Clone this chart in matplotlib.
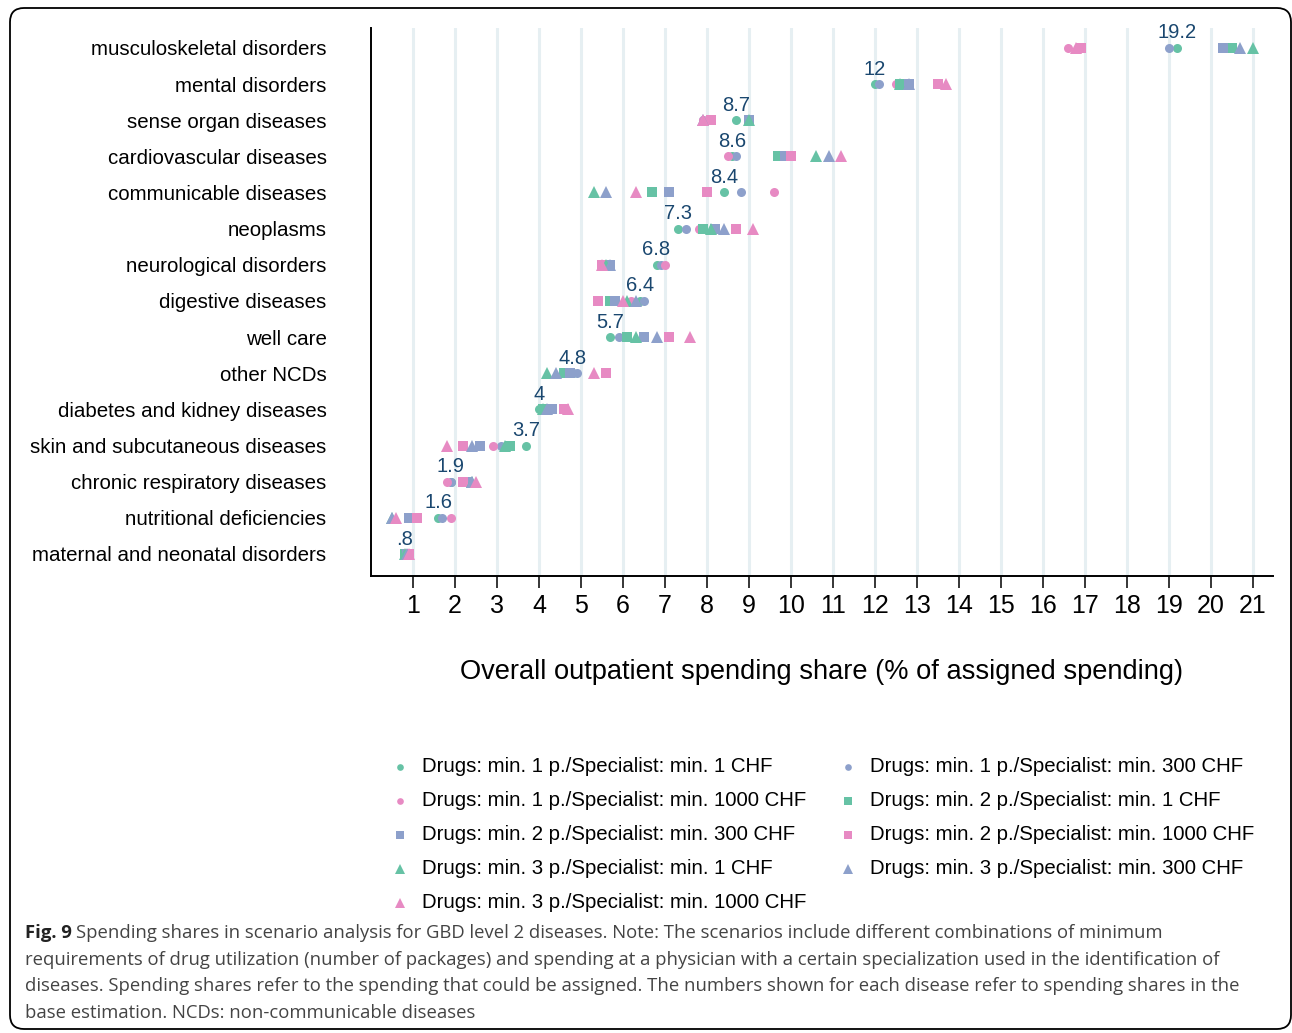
import matplotlib
matplotlib.use("Agg")
import matplotlib.pyplot as plt
from matplotlib.patches import FancyBboxPatch

plt.rcParams["font.family"] = ["Liberation Sans", "DejaVu Sans"]

categories = [
    "musculoskeletal disorders", "mental disorders", "sense organ diseases",
    "cardiovascular diseases", "communicable diseases", "neoplasms",
    "neurological disorders", "digestive diseases", "well care", "other NCDs",
    "diabetes and kidney diseases", "skin and subcutaneous diseases",
    "chronic respiratory diseases", "nutritional deficiencies",
    "maternal and neonatal disorders",
]
base_labels = ["19.2", "12", "8.7", "8.6", "8.4", "7.3", "6.8", "6.4", "5.7",
               "4.8", "4", "3.7", "1.9", "1.6", ".8"]

# one list per scenario, values in category order
d1_s1 = [19.2, 12.0, 8.7, 8.6, 8.4, 7.3, 6.8, 6.4, 5.7, 4.8, 4.0, 3.7, 1.9, 1.6, 0.8]
d1_s300 = [19.0, 12.1, 7.9, 8.7, 8.8, 7.5, 6.9, 6.5, 5.9, 4.9, 4.2, 3.1, 1.9, 1.7, 0.8]
d1_s1000 = [16.6, 12.5, 7.9, 8.5, 9.6, 7.8, 7.0, 6.2, 6.1, 4.6, 4.6, 2.9, 1.8, 1.9, 0.85]
d2_s1 = [20.5, 12.6, 9.0, 9.7, 6.7, 7.9, 5.6, 5.7, 6.1, 4.6, 4.1, 3.3, 2.3, 0.9, 0.8]
d2_s300 = [20.3, 12.8, 9.0, 9.85, 7.1, 8.2, 5.7, 5.8, 6.5, 4.75, 4.3, 2.6, 2.3, 0.9, 0.85]
d2_s1000 = [16.9, 13.5, 8.1, 10.0, 8.0, 8.7, 5.5, 5.4, 7.1, 5.6, 4.6, 2.2, 2.2, 1.1, 0.9]
d3_s1 = [21.0, 12.6, 9.0, 10.6, 5.3, 8.1, 5.6, 6.1, 6.3, 4.2, 4.1, 3.2, 2.4, 0.5, 0.8]
d3_s300 = [20.7, 12.8, 7.9, 10.9, 5.6, 8.4, 5.7, 6.3, 6.8, 4.4, 4.2, 2.4, 2.4, 0.5, 0.85]
d3_s1000 = [16.8, 13.7, 7.9, 11.2, 6.3, 9.1, 5.5, 6.0, 7.6, 5.3, 4.7, 1.8, 2.5, 0.6, 0.9]

series_labels = [
    "Drugs: min. 1 p./Specialist: min. 1 CHF",
    "Drugs: min. 1 p./Specialist: min. 300 CHF",
    "Drugs: min. 1 p./Specialist: min. 1000 CHF",
    "Drugs: min. 2 p./Specialist: min. 1 CHF",
    "Drugs: min. 2 p./Specialist: min. 300 CHF",
    "Drugs: min. 2 p./Specialist: min. 1000 CHF",
    "Drugs: min. 3 p./Specialist: min. 1 CHF",
    "Drugs: min. 3 p./Specialist: min. 300 CHF",
    "Drugs: min. 3 p./Specialist: min. 1000 CHF",
]
series = [d1_s1, d1_s300, d1_s1000, d2_s1, d2_s300, d2_s1000, d3_s1, d3_s300, d3_s1000]

GREEN, BLUE, PINK = "#66c2a5", "#8da0cb", "#e78ac3"
colors = [GREEN, BLUE, PINK] * 3
markers = ["o"] * 3 + ["s"] * 3 + ["^"] * 3
msizes = {"o": 6.5, "s": 6.8, "^": 8.0}

W, H = 1292, 1033
fig = plt.figure(figsize=(W / 100, H / 100), dpi=100)

# main plot region in pixel terms
left, right, top, bottom = 371, 1273, 28, 576
ax = fig.add_axes([left / W, 1 - bottom / H, (right - left) / W, (bottom - top) / H])

rows = list(range(len(categories)))
for i, vals in enumerate(series):
    ax.plot(vals, rows, linestyle="none", marker=markers[i], color=colors[i],
            markersize=msizes[markers[i]], markeredgewidth=0, zorder=3 + i)

for r, (x, lab) in enumerate(zip(d1_s1, base_labels)):
    ax.text(x, r - 0.15, lab, ha="center", va="bottom", fontsize=14.5,
            color="#1a476f", zorder=20)

ax.set_xlim(0, 21.48)
ax.set_ylim(14.61, -0.55)
ax.set_xticks(range(1, 22))
ax.set_xticklabels([str(v) for v in range(1, 22)], fontsize=18)
ax.tick_params(axis="x", length=8.6, width=1.1, pad=4.5)
ax.set_yticks(rows)
ax.set_yticklabels(categories, fontsize=14.8)
ax.tick_params(axis="y", length=0, pad=32)
ax.grid(axis="x", color="#e6eff2", linewidth=2.2)
ax.set_axisbelow(True)
for s in ("top", "right"):
    ax.spines[s].set_visible(False)
for s in ("left", "bottom"):
    ax.spines[s].set_linewidth(1.4)

ax.set_xlabel("Overall outpatient spending share (% of assigned spending)", fontsize=19.6)
ax.xaxis.set_label_coords(0.5, -(672 - bottom) / (bottom - top))
ax.xaxis.label.set_va("center")

# overlay in pixel coordinates for border, legend and caption
ov = fig.add_axes([0, 0, 1, 1], facecolor="none")
ov.set_xlim(0, W)
ov.set_ylim(H, 0)
ov.axis("off")

ov.add_patch(FancyBboxPatch((10, 8), 1281, 1021,
                            boxstyle="round,pad=0,rounding_size=14",
                            facecolor="none", edgecolor="black", linewidth=1.3))

leg_ms = {"o": 4.8, "s": 5.8, "^": 6.8}
for i, lab in enumerate(series_labels):
    row, col = divmod(i, 2)
    y = 767 + 34 * row
    mx = 400 if col == 0 else 848
    ov.plot([mx], [y], linestyle="none", marker=markers[i], color=colors[i],
            markersize=leg_ms[markers[i]], markeredgewidth=0)
    ov.text(mx + 22, y, lab, ha="left", va="center", fontsize=14.7)

cap_font = ["Open Sans", "DejaVu Sans"]
cap_color = "#444444"
cap_lines = [
    "Spending shares in scenario analysis for GBD level 2 diseases. Note: The scenarios include different combinations of minimum",
    "requirements of drug utilization (number of packages) and spending at a physician with a certain specialization used in the identification of",
    "diseases. Spending shares refer to the spending that could be assigned. The numbers shown for each disease refer to spending shares in the",
    "base estimation. NCDs: non-communicable diseases",
]
cap_fs = 13.3
fig_lab = ov.text(25, 933, "Fig. 9", ha="left", va="center", fontsize=cap_fs,
                  fontweight="bold", family=cap_font, color="#222222")
renderer = fig.canvas.get_renderer()
bw = fig_lab.get_window_extent(renderer).width
ov.text(25 + bw + 4, 933, cap_lines[0], ha="left", va="center", fontsize=cap_fs,
        family=cap_font, color=cap_color)
for k, line in enumerate(cap_lines[1:], start=1):
    ov.text(25, 933 + 26.7 * k, line, ha="left", va="center", fontsize=cap_fs,
            family=cap_font, color=cap_color)

fig.savefig("out.png", dpi=100)
